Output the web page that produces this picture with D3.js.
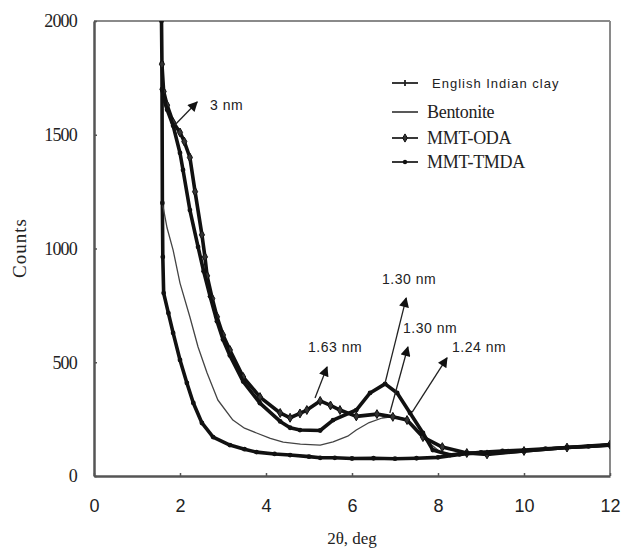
<!DOCTYPE html>
<html>
<head>
<meta charset="utf-8">
<script src="https://cdn.jsdelivr.net/npm/d3@7"></script>
<style>
body { margin: 0; background: #fff; }
</style>
</head>
<body>
<div id="chart"></div>
<script>
// x-ray diffractograms, values (2theta in deg, counts)
var xTicks = [0, 2, 4, 6, 8, 10, 12]
var yTicks = [0, 500, 1000, 1500, 2000]
var seriesNames = ["English Indian clay", "Bentonite", "MMT-ODA", "MMT-TMDA"]

var englishClay = [[1.57, 2000], [1.58, 1815], [1.59, 1200], [1.60, 963], [1.62, 804], [1.73, 716],
  [1.84, 629], [2.0, 510], [2.16, 409], [2.31, 321], [2.51, 233], [2.77, 171], [3.16, 136],
  [3.5, 118], [3.78, 105], [4.2, 97], [4.56, 92], [5.0, 85], [5.26, 80], [5.6, 80], [6.0, 77],
  [6.5, 78], [7.0, 76], [7.5, 78], [8.0, 82], [8.5, 95], [9.0, 104], [9.5, 110], [10.0, 114],
  [10.5, 120], [11.0, 125], [11.5, 130], [12.0, 136]]

var bentonite = [[1.60, 1190], [1.70, 1090], [1.84, 993], [2.0, 848], [2.23, 699], [2.42, 567],
  [2.63, 453], [2.88, 334], [3.23, 246], [3.5, 210], [3.78, 189], [4.1, 165], [4.4, 149],
  [4.8, 140], [5.26, 136], [5.56, 150], [5.9, 175], [6.1, 202], [6.4, 235], [6.7, 255],
  [7.0, 262], [7.2, 252], [7.4, 225], [7.7, 160], [8.05, 105], [8.4, 95], [9.0, 100],
  [10.0, 112], [11.0, 125], [12.0, 135]]

var mmtOda = [[1.58, 1810], [1.62, 1690], [1.70, 1630], [1.84, 1555], [2.0, 1510], [2.1, 1470],
  [2.23, 1400], [2.35, 1250], [2.51, 1060], [2.58, 963], [2.63, 880], [2.75, 780], [2.86, 700],
  [3.0, 620], [3.16, 554], [3.47, 435], [3.86, 347], [4.33, 277], [4.56, 256], [4.79, 275],
  [4.95, 290], [5.26, 330], [5.5, 310], [5.72, 290], [6.1, 262], [6.58, 272], [6.95, 260],
  [7.28, 246], [7.65, 171], [8.1, 127], [8.67, 101], [9.14, 95], [10.0, 110], [11.0, 125],
  [12.0, 138]]

var mmtTmda = [[1.58, 1700], [1.62, 1660], [1.70, 1610], [1.84, 1540], [2.0, 1420], [2.07, 1345],
  [2.23, 1169], [2.42, 1007], [2.55, 900], [2.7, 790], [2.86, 680], [3.0, 600], [3.16, 530],
  [3.47, 415], [3.86, 320], [4.33, 240], [4.56, 212], [4.79, 202], [5.26, 200], [5.56, 246],
  [6.1, 290], [6.42, 365], [6.77, 405], [7.05, 365], [7.35, 277], [7.65, 189], [7.88, 114],
  [8.28, 92], [8.67, 101], [9.2, 100], [10.0, 110], [11.0, 125], [12.0, 135]]

// arrow annotations: label, tail [x, y], head [x, y]
var peakLabels = ["3 nm", "1.63 nm", "1.30 nm", "1.30 nm", "1.24 nm"]
var peakTails = [[1.88, 1543], [5.14, 343], [6.77, 409], [6.88, 277], [7.40, 281]]
var peakHeads = [[2.40, 1644], [5.42, 479], [7.26, 782], [7.30, 567], [8.21, 519]]

var width = 622, height = 549
var margin = {top: 21, right: 12, bottom: 73, left: 94}

var svg = d3.select("#chart").append("svg")
    .attr("width", width)
    .attr("height", height)

var x = d3.scaleLinear().domain([0, 12]).range([margin.left, width - margin.right])
var y = d3.scaleLinear().domain([0, 2000]).range([height - margin.bottom, margin.top])

svg.append("defs").append("clipPath").attr("id", "plotclip")
    .append("rect")
    .attr("x", x(0)).attr("y", y(2000))
    .attr("width", x(12) - x(0)).attr("height", y(0) - y(2000))

svg.append("defs").append("marker")
    .attr("id", "arrowhead")
    .attr("viewBox", "0 0 10 10")
    .attr("refX", 9).attr("refY", 5)
    .attr("markerWidth", 11).attr("markerHeight", 10)
    .attr("markerUnits", "userSpaceOnUse")
    .attr("orient", "auto")
    .append("path").attr("d", "M0,0 L10,5 L0,10 z").attr("fill", "#111")

// frame top + right (light grey like excel)
svg.append("line").attr("x1", x(0)).attr("x2", x(12)).attr("y1", y(2000)).attr("y2", y(2000))
    .attr("stroke", "#8a8a8a").attr("stroke-width", 2)
svg.append("line").attr("x1", x(12)).attr("x2", x(12)).attr("y1", y(2000)).attr("y2", y(0))
    .attr("stroke", "#8a8a8a").attr("stroke-width", 2)

// axes
var yAxis = svg.append("g")
    .attr("transform", "translate(" + x(0) + ",0)")
    .call(d3.axisLeft(y).tickValues(yTicks).tickFormat(d3.format("d"))
      .tickSize(-3).tickSizeOuter(0).tickPadding(17))
yAxis.select(".domain").attr("stroke", "#555").attr("stroke-width", 2.5)
yAxis.selectAll(".tick line").attr("stroke", "#555").attr("stroke-width", 1.5)
yAxis.selectAll("text")
    .style("font-family", "'Liberation Serif', 'Times New Roman', serif")
    .style("font-size", "18px")
    .style("letter-spacing", "-0.8px")
    .attr("fill", "#222")

var xAxis = svg.append("g")
    .attr("transform", "translate(0," + y(0) + ")")
    .call(d3.axisBottom(x).tickValues(xTicks).tickSize(-3).tickSizeOuter(0).tickPadding(23))
xAxis.select(".domain").attr("stroke", "#555").attr("stroke-width", 2.5)
xAxis.selectAll(".tick line").attr("stroke", "#555").attr("stroke-width", 1.5)
xAxis.selectAll("text")
    .style("font-family", "'Liberation Sans', Arial, sans-serif")
    .style("font-size", "18px")
    .attr("fill", "#222")

// axis titles
svg.append("text")
    .attr("transform", "translate(26," + 248 + ") rotate(-90)")
    .attr("text-anchor", "middle")
    .style("font-family", "'Liberation Serif', 'Times New Roman', serif")
    .style("font-size", "19px")
    .style("letter-spacing", "1px")
    .attr("fill", "#222")
    .text("Counts")

svg.append("text")
    .attr("x", x(6)).attr("y", 544)
    .attr("text-anchor", "middle")
    .style("font-family", "'Liberation Serif', 'Times New Roman', serif")
    .style("font-size", "17px")
    .attr("fill", "#222")
    .text("2θ, deg")

// curves
var line = d3.line().x(d => x(d[0])).y(d => y(d[1]))
var plot = svg.append("g").attr("clip-path", "url(#plotclip)")

var styles = [
  {data: englishClay, width: 3.6, marker: "dot"},
  {data: bentonite, width: 1.3, marker: "none"},
  {data: mmtOda, width: 3.6, marker: "diamond"},
  {data: mmtTmda, width: 3.6, marker: "dot"}
]

function drawMarkers(g, pts, kind, size) {
  if (kind == "dot") {
    g.selectAll("circle").data(pts).enter().append("circle")
      .attr("cx", d => d[0]).attr("cy", d => d[1]).attr("r", size)
      .attr("fill", "#111")
  } else if (kind == "diamond") {
    g.selectAll("path").data(pts).enter().append("path")
      .attr("d", d3.symbol().type(d3.symbolDiamond).size(size * size * 4))
      .attr("transform", d => "translate(" + d[0] + "," + d[1] + ")")
      .attr("fill", "#333").attr("stroke", "#111").attr("stroke-width", 1)
  }
}

styles.forEach(function(s) {
  plot.append("path")
    .datum(s.data)
    .attr("d", line)
    .attr("fill", "none")
    .attr("stroke", s.width > 2 ? "#111" : "#444")
    .attr("stroke-width", s.width)
    .attr("stroke-linejoin", "round")
  var pts = s.data.map(d => [x(d[0]), y(d[1])])
  drawMarkers(plot.append("g"), pts, s.marker, 2.4)
})

// peak arrows + labels
var ann = svg.append("g")
peakLabels.forEach(function(lbl, i) {
  ann.append("line")
    .attr("x1", x(peakTails[i][0])).attr("y1", y(peakTails[i][1]))
    .attr("x2", x(peakHeads[i][0])).attr("y2", y(peakHeads[i][1]))
    .attr("stroke", "#222").attr("stroke-width", 1.3)
    .attr("marker-end", "url(#arrowhead)")
})
var labelPos = [[210, 110], [308, 352], [382, 284], [403, 333], [452, 352]]
ann.selectAll("text.peak").data(peakLabels).enter().append("text")
    .attr("class", "peak")
    .attr("x", (d, i) => labelPos[i][0]).attr("y", (d, i) => labelPos[i][1])
    .style("font-family", "'Liberation Sans', Arial, sans-serif")
    .style("font-size", "14px")
    .style("letter-spacing", "0.5px")
    .attr("fill", "#222")
    .text(d => d)

// legend
var legendMarks = ["plus", "none", "diamond", "dot"]
var legendY = [83, 112, 138, 162]
var legend = svg.append("g")
seriesNames.forEach(function(name, i) {
  var row = legend.append("g").attr("transform", "translate(0," + legendY[i] + ")")
  row.append("line").attr("x1", 392).attr("x2", 418).attr("y1", 0).attr("y2", 0)
    .attr("stroke", "#222").attr("stroke-width", i == 1 ? 1.5 : 1.8)
  if (legendMarks[i] == "plus") {
    row.append("line").attr("x1", 405).attr("x2", 405).attr("y1", -3).attr("y2", 3)
      .attr("stroke", "#222").attr("stroke-width", 1.8)
  } else if (legendMarks[i] != "none") {
    drawMarkers(row, [[405, 0]], legendMarks[i], 2.2)
  }
  row.append("text")
    .attr("x", i == 0 ? 432 : 427).attr("y", 0).attr("dy", "0.35em")
    .style("font-family", i == 0 ? "'Liberation Sans', Arial, sans-serif" : "'Liberation Serif', 'Times New Roman', serif")
    .style("font-size", i == 0 ? "13px" : "18px")
    .style("letter-spacing", i == 0 ? "1px" : "-0.3px")
    .attr("fill", "#222")
    .text(name)
})
</script>
</body>
</html>
